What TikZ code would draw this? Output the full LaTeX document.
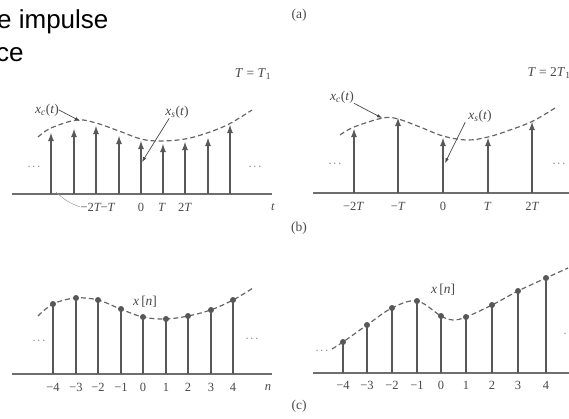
\documentclass[tikz,border=0pt]{standalone}
\usepackage{fontspec}
\setmainfont{Liberation Serif}
\newfontfamily\headfont{Liberation Sans}
\usetikzlibrary{arrows.meta}
\definecolor{stemgray}{HTML}{585858}
\definecolor{axisgray}{HTML}{6E6E6E}
\definecolor{curvegray}{HTML}{666666}
\definecolor{txtgray}{HTML}{484848}
\newcommand{\vi}[1]{\textit{#1}}
\tikzset{
  axisline/.style={draw=axisgray, line width=1.4pt},
  impulse/.style={draw=stemgray, line width=2pt, -{Latex[length=9pt,width=6pt]}},
  stemline/.style={draw=stemgray, line width=2pt},
  envelope/.style={draw=curvegray, line width=1.2pt, dash pattern=on 5pt off 3pt},
  pointer/.style={draw=txtgray, line width=0.7pt, -{Latex[length=5pt,width=3.5pt]}},
  leader/.style={draw=axisgray!70, line width=0.5pt},
  lbl/.style={text=txtgray, font=\fontsize{12.5}{14}\selectfont, inner sep=0pt},
  biglbl/.style={text=txtgray, font=\fontsize{13.5}{15}\selectfont, inner sep=0pt},
  dotmark/.style={circle, fill=stemgray, inner sep=0pt, minimum size=6pt},
  head/.style={font=\headfont\fontsize{26}{30}\selectfont, inner sep=0pt, anchor=base west},
  ellip/.style={text=txtgray, font=\fontsize{11}{12}\selectfont, inner sep=0pt}
}
\begin{document}
\begin{tikzpicture}[x=1pt,y=-1pt]
\useasboundingbox (0,0) rectangle (569,418);

% heading text (cropped at the edge, as in the reference)
\node[head] (h1) at (-3,28) {e impulse};
\node[head] (h2) at (-4,61) {ce};

% panel labels
\node[biglbl] (pa) at (299,15) {(a)};
\node[biglbl] (pb) at (299,228) {(b)};
\node[biglbl] (pc) at (299,406) {(c)};

% ================= top-left: T = T1 =================
\coordinate (tlA) at (12,194);
\coordinate (tlB) at (272,194);
\draw[axisline] (tlA) -- (tlB);
\draw[envelope] plot[smooth, tension=0.6] coordinates {(38,137) (51,128) (77,120) (96,123) (119,131) (141,139) (160,141) (185,139) (207,133) (229,124) (252,110)};
\foreach \xx/\tip [count=\i] in {51/132,74/128,96/125,119/135,141/140,163/143,185/141,208/137,230/124}{
  \coordinate (tlb\i) at (\xx,194);
  \coordinate (tlt\i) at (\xx,\tip);
  \draw[impulse] (tlb\i) -- (tlt\i);
}
\node[lbl] (tlm2) at (91,207) {−2\vi{T}};
\node[lbl] (tlm1) at (108,207) {−\vi{T}};
\node[lbl] (tl0) at (141,207) {0};
\node[lbl] (tlp1) at (162,207) {\vi{T}};
\node[lbl] (tlp2) at (185,207) {2\vi{T}};
\node[lbl] (tlt) at (273,207) {\vi{t}};
\coordinate (tlld) at (56,192);
\draw[leader] (tlld) to[bend right=12] (tlm2.west);
\node[ellip] (tldl) at (34,167) {$\cdots$};
\node[ellip] (tldr) at (255,167) {$\cdots$};
\node[biglbl] (tlT) at (253,74) {\vi{T} = \vi{T}\textsubscript{1}};
\node[biglbl] (tlxc) at (47,110) {\vi{x}\textsubscript{\vi{c}}(\vi{t})};
\coordinate (tlxcp) at (80,121);
\draw[pointer] (tlxc.east) -- (tlxcp);
\node[biglbl] (tlxs) at (177,112) {\vi{x}\textsubscript{\vi{s}}(\vi{t})};
\coordinate (tlxsp) at (142,162);
\draw[pointer] (tlxs.south west) ++(4,0) coordinate (tlxsq) -- (tlxsp);

% ================= top-right: T = 2T1 =================
\coordinate (trA) at (313,193);
\coordinate (trB) at (569,193);
\draw[axisline] (trA) -- (trB);
\draw[envelope] plot[smooth, tension=0.6] coordinates {(340,135) (354,127) (383,118) (398,119) (420,127) (443,136) (467,140) (488,137) (510,130) (533,121) (555,108)};
\foreach \xx/\tip [count=\i] in {354/128,398/117,443/137,488/137,532/121}{
  \coordinate (trb\i) at (\xx,193);
  \coordinate (trt\i) at (\xx,\tip);
  \draw[impulse] (trb\i) -- (trt\i);
}
\node[lbl] (trm2) at (353.6,206) {−2\vi{T}};
\node[lbl] (trm1) at (398.3,206) {−\vi{T}};
\node[lbl] (tr0) at (443,206) {0};
\node[lbl] (trp1) at (487.7,206) {\vi{T}};
\node[lbl] (trp2) at (532.4,206) {2\vi{T}};
\node[lbl] (trt) at (571,207) {\vi{t}};
\node[ellip] (trdl) at (335,164) {$\cdots$};
\node[ellip] (trdr) at (559,164) {$\cdots$};
\node[biglbl] (trT) at (549,73) {\vi{T} = 2\vi{T}\textsubscript{1}};
\node[biglbl] (trxc) at (342,97) {\vi{x}\textsubscript{\vi{c}}(\vi{t})};
\coordinate (trxcp) at (382,118);
\draw[pointer] (trxc.south east) -- (trxcp);
\node[biglbl] (trxs) at (480,116) {\vi{x}\textsubscript{\vi{s}}(\vi{t})};
\coordinate (trxsp) at (445,163);
\draw[pointer] (trxs.south west) ++(-3,0) coordinate (trxsq) -- (trxsp);

% ================= bottom-left: x[n] =================
\coordinate (blA) at (12,374);
\coordinate (blB) at (272,374);
\draw[axisline] (blA) -- (blB);
\draw[envelope] plot[smooth, tension=0.6] coordinates {(38,316) (53,304) (75.5,298) (98,300) (120.5,309) (143,317) (165.5,319) (188,316) (210.5,310) (233,300) (253,288)};
\foreach \k/\xx/\h [count=\i] in {-4/53/304,-3/76/298,-2/98/300,-1/121/309,0/143/317,1/166/319,2/188/316,3/211/310,4/233/300}{
  \coordinate (blb\i) at (\xx,374);
  \node[dotmark] (bld\i) at (\xx,\h) {};
  \draw[stemline] (blb\i) -- (bld\i.center);
  \node[lbl] (bll\i) at (\xx,387) {\ifnum\k<0 −\the\numexpr-\k\relax\else\k\fi};
}
\node[lbl] (bln) at (268,388) {\vi{n}};
\node[ellip] (bldl) at (39,341) {$\cdots$};
\node[ellip] (bldr) at (252,339) {$\cdots$};
\node[biglbl] (blx) at (145,302) {\vi{x}\,[\vi{n}]};

% ================= bottom-right: x[n] =================
\coordinate (brA) at (313,373);
\coordinate (brB) at (569,373);
\draw[axisline] (brA) -- (brB);
\draw[envelope] plot[smooth, tension=0.6] coordinates {(332,349) (343,342) (367,325) (392,308) (417,301) (441,316) (453,320) (466,317) (492,305) (518,291) (546,278) (568,268)};
\foreach \k/\xx/\h [count=\i] in {-4/343/342,-3/367/325,-2/392/308,-1/417/301,0/441/316,1/466/317,2/492/305,3/518/291,4/546/278}{
  \coordinate (brb\i) at (\xx,373);
  \node[dotmark] (brd\i) at (\xx,\h) {};
  \draw[stemline] (brb\i) -- (brd\i.center);
  \node[lbl] (brl\i) at (\xx,385) {\ifnum\k<0 −\the\numexpr-\k\relax\else\k\fi};
}
\node[lbl] (brn) at (572,386) {\vi{n}};
\node[ellip] (brdl) at (322,351) {$\cdots$};
\node[ellip] (brdr) at (570,334) {$\cdots$};
\node[biglbl] (brx) at (443,290) {\vi{x}\,[\vi{n}]};
\end{tikzpicture}
\end{document}
